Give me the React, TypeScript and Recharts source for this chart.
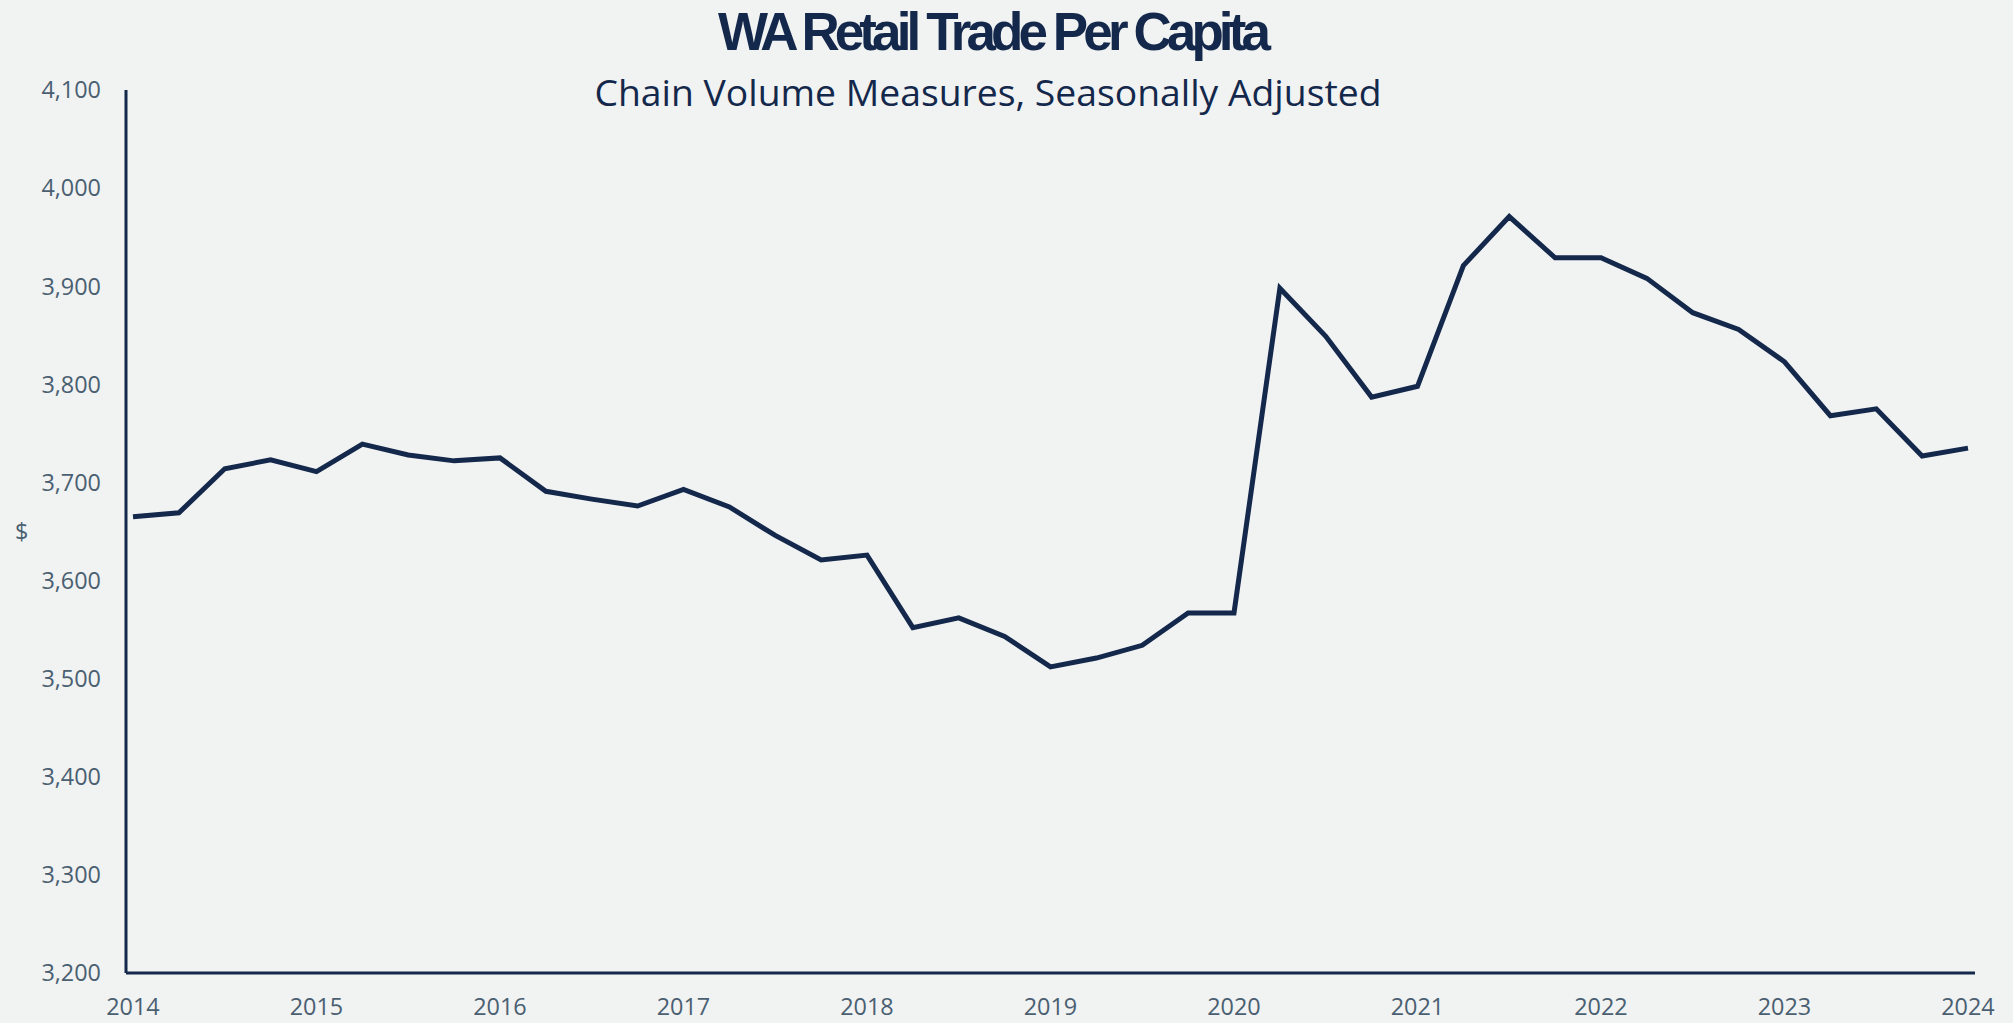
import React from 'react';
import { LineChart, Line, XAxis, YAxis } from 'recharts';

const quarters = [
  'Mar-2014', 'Jun-2014', 'Sep-2014', 'Dec-2014',
  'Mar-2015', 'Jun-2015', 'Sep-2015', 'Dec-2015',
  'Mar-2016', 'Jun-2016', 'Sep-2016', 'Dec-2016',
  'Mar-2017', 'Jun-2017', 'Sep-2017', 'Dec-2017',
  'Mar-2018', 'Jun-2018', 'Sep-2018', 'Dec-2018',
  'Mar-2019', 'Jun-2019', 'Sep-2019', 'Dec-2019',
  'Mar-2020', 'Jun-2020', 'Sep-2020', 'Dec-2020',
  'Mar-2021', 'Jun-2021', 'Sep-2021', 'Dec-2021',
  'Mar-2022', 'Jun-2022', 'Sep-2022', 'Dec-2022',
  'Mar-2023', 'Jun-2023', 'Sep-2023', 'Dec-2023',
  'Mar-2024',
];

const retailPerCapita = [
  3665, 3669, 3714, 3723,
  3711, 3739, 3728, 3722,
  3725, 3691, 3683, 3676,
  3693, 3675, 3646, 3621,
  3626, 3552, 3562, 3543,
  3512, 3521, 3534, 3567,
  3567, 3898, 3849, 3787,
  3798, 3921, 3971, 3929,
  3929, 3908, 3873, 3856,
  3823, 3768, 3775, 3727,
  3735,
];

const yTicks = [3200, 3300, 3400, 3500, 3600, 3700, 3800, 3900, 4000, 4100];

const TITLE = 'WA Retail Trade Per Capita';
const SUBTITLE = 'Chain Volume Measures, Seasonally Adjusted';

const NAVY = '#13284b';
const TICK = '#4a5f71';
const BG = '#f1f2f2';

const data = quarters.map((q, i) => ({ quarter: q, value: retailPerCapita[i] }));

const tickStyle = { fill: TICK, fontSize: 23.4, fontFamily: '"Open Sans", sans-serif' };

export default function App() {
  return (
    <div style={{ position: 'fixed', left: 0, top: 0, width: 2013, height: 1023, background: BG }}>
      <LineChart
        width={2013}
        height={1023}
        data={data}
        margin={{ top: 90, right: 38, bottom: 20, left: 0 }}
      >
        <XAxis
          dataKey="quarter"
          interval={3}
          tickFormatter={(v: string) => v.slice(-4)}
          tick={tickStyle}
          tickLine={false}
          tickSize={0}
          tickMargin={25}
          height={30}
          padding={{ left: 7, right: 7 }}
          axisLine={{ stroke: NAVY, strokeWidth: 3 }}
        />
        <YAxis
          domain={[3200, 4100]}
          ticks={yTicks}
          width={126}
          tickFormatter={(v: number) => v.toLocaleString('en-US')}
          tick={tickStyle}
          tickLine={false}
          tickSize={0}
          tickMargin={25}
          axisLine={{ stroke: NAVY, strokeWidth: 3 }}
          label={{ value: '$', position: 'insideLeft', offset: 15, style: tickStyle }}
        />
        <Line
          type="linear"
          dataKey="value"
          stroke={NAVY}
          strokeWidth={5}
          dot={false}
          isAnimationActive={false}
        />
      </LineChart>
      <svg
        width={2013}
        height={120}
        style={{ position: 'absolute', left: 0, top: 0, pointerEvents: 'none' }}
      >
        <text
          x={992}
          y={50}
          textAnchor="middle"
          fill={NAVY}
          style={{ fontFamily: '"Liberation Sans", Arial, sans-serif', fontWeight: 'bold', fontSize: 53, letterSpacing: -4.9 }}
        >
          {TITLE}
        </text>
        <text
          x={988}
          y={106}
          textAnchor="middle"
          fill={NAVY}
          style={{ fontFamily: '"Open Sans", sans-serif', fontSize: 37.3 }}
        >
          {SUBTITLE}
        </text>
      </svg>
    </div>
  );
}
